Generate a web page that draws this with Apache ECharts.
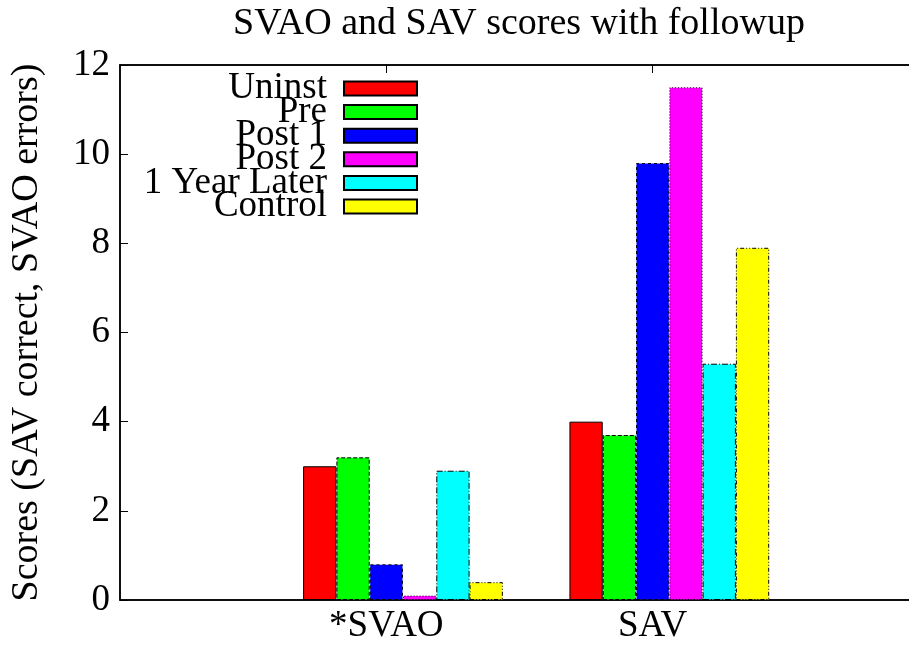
<!DOCTYPE html>
<html>
<head>
<meta charset="utf-8">
<script src="https://cdn.jsdelivr.net/npm/echarts@6/dist/echarts.min.js"></script>
<style>
  html, body { margin: 0; padding: 0; background: #fff; overflow: hidden; }
  /* wider than the window: the right edge of the frame falls outside, as in the original */
  #chart { width: 930px; height: 645px; }
</style>
</head>
<body>
<div id="chart"></div>
<script>
  // groups on the x axis (an empty slot either side, like the gnuplot xrange -1..2)
  var categories = ['*SVAO', 'SAV'];
  var seriesNames = ['Uninst', 'Pre', 'Post 1', 'Post 2', '1 Year Later', 'Control'];
  var uninst = [3.0, 4.0];
  var pre = [3.2, 3.7];
  var post1 = [0.8, 9.8];
  var post2 = [0.1, 11.5];
  var yearLater = [2.9, 5.3];
  var control = [0.4, 7.9];
  var yTicks = [0, 2, 4, 6, 8, 10, 12];

  var values = [uninst, pre, post1, post2, yearLater, control];
  var colors = ['#ff0000', '#00ff00', '#0000ff', '#ff00ff', '#00ffff', '#ffff00'];
  var dashes = ['solid', [4, 2], [3, 3], [1, 2], [6, 2, 1, 2], [4, 2, 1, 2, 1, 2]];
  var serif = '"Liberation Serif", "DejaVu Serif", serif';

  var axisData = [''].concat(categories, ['']);

  function pad(v) {
    return [null].concat(v, [null]);
  }

  var series = [];
  // empty first slot so the tick sits in the middle of the 3rd bar, as gnuplot does
  series.push({ type: 'bar', name: 'spacer', data: [], barWidth: '12.5%', barGap: '0%' });
  for (var i = 0; i < seriesNames.length; i++) {
    series.push({
      type: 'bar',
      name: seriesNames[i],
      data: pad(values[i]),
      barWidth: '12.5%',
      barGap: '0%',
      itemStyle: {
        color: colors[i],
        borderColor: '#000',
        borderWidth: 1,
        borderType: dashes[i]
      }
    });
  }

  var chart = echarts.init(document.getElementById('chart'));
  var option = {
    animation: false,
    title: {
      text: 'SVAO and SAV scores with followup',
      left: 514,
      textAlign: 'center',
      top: 0,
      textStyle: { fontFamily: serif, fontSize: 38, fontWeight: 'normal', color: '#000' }
    },
    legend: {
      data: seriesNames,
      orient: 'vertical',
      align: 'right',
      right: 507,
      top: 65,
      icon: 'rect',
      itemWidth: 73,
      itemHeight: 14,
      itemGap: -13.4,
      textStyle: { fontFamily: serif, fontSize: 37, color: '#000', padding: [0, 12, 0, 0] }
    },
    grid: {
      left: 120,
      top: 65,
      width: 799,
      height: 538,
      show: true,
      borderColor: '#000',
      borderWidth: 1.5
    },
    xAxis: [{
      type: 'category',
      data: axisData,
      boundaryGap: false,
      axisLine: { lineStyle: { color: '#000', width: 1.5 } },
      axisTick: { show: false },
      axisLabel: {
        fontFamily: serif, fontSize: 37, color: '#000', margin: 8,
        interval: 0
      },
      splitLine: { show: false }
    }, {
      type: 'category',
      position: 'top',
      data: axisData,
      boundaryGap: false,
      axisLine: { lineStyle: { color: '#000', width: 1.5 } },
      axisTick: {
        inside: true,
        length: 8,
        lineStyle: { color: '#000' },
        interval: function (idx) { return idx === 1 || idx === 2; }
      },
      axisLabel: { show: false }
    }],
    yAxis: {
      type: 'value',
      min: yTicks[0],
      max: yTicks[yTicks.length - 1],
      interval: 2,
      name: 'Scores (SAV correct, SVAO errors)',
      nameLocation: 'middle',
      nameGap: 74,
      nameTextStyle: { fontFamily: serif, fontSize: 38, color: '#000' },
      axisLine: { show: true, lineStyle: { color: '#000', width: 1.5 } },
      axisTick: { show: true, inside: true, length: 8, lineStyle: { color: '#000' } },
      axisLabel: { fontFamily: serif, fontSize: 37, color: '#000', margin: 10 },
      splitLine: { show: false }
    },
    series: series
  };
  chart.setOption(option);
</script>
</body>
</html>
